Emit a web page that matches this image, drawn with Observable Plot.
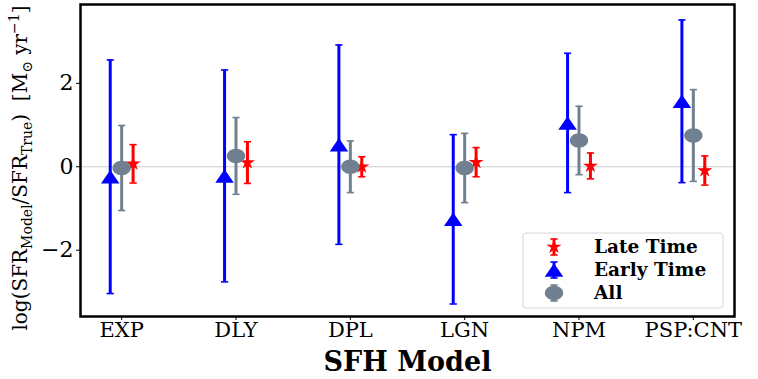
<!DOCTYPE html>
<html><head><meta charset="utf-8">
<script src="https://cdn.jsdelivr.net/npm/d3@7"></script>
<script src="https://cdn.jsdelivr.net/npm/@observablehq/plot@0.6"></script>
<style>html,body{margin:0;padding:0;background:#fff;} svg{display:block;}</style>
</head><body><div id="chart"></div>
<script>
// ---- data ----
const models = ["EXP", "DLY", "DPL", "LGN", "NPM", "PSP:CNT"];
const lateMean  = [0.07, 0.10, 0.00, 0.11, 0.02, -0.09];
const lateErr   = [0.46, 0.50, 0.24, 0.35, 0.31, 0.35];
const earlyMean = [-0.24, -0.22, 0.53, -1.26, 1.05, 1.57];
const earlyErr  = [2.80, 2.54, 2.39, 2.03, 1.67, 1.95];
const allMean   = [-0.03, 0.26, 0.00, -0.03, 0.63, 0.75];
const allErr    = [1.02, 0.92, 0.62, 0.83, 0.82, 1.10];
const seriesNames = ["Late Time", "Early Time", "All"];
const yTicks = [-2, 0, 2];

// ---- custom marker shapes ----
function ellipsePath(ctx, rx, ry) {
  const k = 0.5523;
  ctx.moveTo(rx, 0);
  ctx.bezierCurveTo(rx, ry * k, rx * k, ry, 0, ry);
  ctx.bezierCurveTo(-rx * k, ry, -rx, ry * k, -rx, 0);
  ctx.bezierCurveTo(-rx, -ry * k, -rx * k, -ry, 0, -ry);
  ctx.bezierCurveTo(rx * k, -ry, rx, -ry * k, rx, 0);
  ctx.closePath();
}
const ellipseSym = {draw(ctx) { ellipsePath(ctx, 9.2, 7.2); }};
const triSym = {draw(ctx) {
  const w = 18.5, h = 13.5;
  ctx.moveTo(0, -h / 2); ctx.lineTo(w / 2, h / 2); ctx.lineTo(-w / 2, h / 2); ctx.closePath();
}};
const starSym = {draw(ctx) {
  const R = 7.4, r = R * 0.382;
  for (let k = 0; k < 10; k++) {
    const a = -Math.PI / 2 + k * Math.PI / 5, rr = k % 2 ? r : R;
    const px = rr * Math.cos(a) * 1.08, py = rr * Math.sin(a);
    k ? ctx.lineTo(px, py) : ctx.moveTo(px, py);
  }
  ctx.closePath();
}};
const capSym = {draw(ctx) { ctx.moveTo(-3.6, 0); ctx.lineTo(3.6, 0); }};

const series = [
  {name: seriesNames[0], mean: lateMean,  err: lateErr,  off: 0.1,  color: "#ff0000", sym: starSym},
  {name: seriesNames[1], mean: earlyMean, err: earlyErr, off: -0.1, color: "#0000ff", sym: triSym},
  {name: seriesNames[2], mean: allMean,   err: allErr,   off: 0,    color: "#708090", sym: ellipseSym}
];

const marks = [Plot.ruleY([0], {stroke: "#cccccc", strokeWidth: 1})];
for (const s of series) {
  const rows = models.map((m, i) => ({x: i + s.off, y: s.mean[i], lo: s.mean[i] - s.err[i], hi: s.mean[i] + s.err[i]}));
  marks.push(
    Plot.ruleX(rows, {x: "x", y1: "lo", y2: "hi", stroke: s.color, strokeWidth: 3}),
    Plot.dot(rows, {x: "x", y: "hi", symbol: capSym, stroke: s.color, strokeWidth: 1.6, fill: "none"}),
    Plot.dot(rows, {x: "x", y: "lo", symbol: capSym, stroke: s.color, strokeWidth: 1.6, fill: "none"}),
    Plot.dot(rows, {x: "x", y: "y", symbol: s.sym, fill: s.color, stroke: "none"})
  );
}
marks.push(
  Plot.frame({stroke: "black", strokeWidth: 2.5}),
  Plot.axisX({ticks: d3.range(models.length), tickFormat: i => models[i], tickSize: 4, tickPadding: 2,
    fontSize: 21, label: null, stroke: "black"}),
  Plot.axisY({ticks: yTicks, tickSize: 4, tickPadding: 3, fontSize: 22, label: null,
    tickFormat: d => d < 0 ? "\u2212" + (-d) : String(d)}),
  Plot.text(["SFH Model"], {frameAnchor: "bottom", dy: 54, fontSize: 27, fontWeight: "bold"})
);

const chart = Plot.plot({
  width: 758, height: 379,
  marginLeft: 80, marginRight: 24, marginTop: 4, marginBottom: 63,
  style: {fontFamily: "'DejaVu Serif', serif", background: "white", color: "black"},
  x: {type: "linear", domain: [-0.36, 5.36]},
  y: {domain: [-3.59, 3.89]},
  marks
});
document.getElementById("chart").appendChild(chart);

// ---- y-axis label with sub/superscripts ----
const svg = d3.select(chart);
const ylab = svg.append("text")
  .attr("transform", "translate(27,168) rotate(-90)")
  .attr("text-anchor", "middle")
  .attr("font-family", "'DejaVu Serif', serif")
  .attr("font-size", 20).attr("fill", "black");
const pieces = [
  ["log(SFR", 0], ["Model", 5], ["/SFR", 0], ["True", 5], [")\u00a0\u00a0[M", 0],
  ["\u2299", 5], ["\u00a0yr", 0], ["\u22121", -8], ["]", 0]
];
let prev = 0;
for (const [t, shift] of pieces) {
  ylab.append("tspan").attr("dy", shift - prev).attr("font-size", shift ? 14 : 20).text(t);
  prev = shift;
}

// ---- legend ----
const lg = svg.append("g").attr("transform", "translate(523,233)");
lg.append("rect").attr("width", 200).attr("height", 75).attr("rx", 3)
  .attr("fill", "white").attr("fill-opacity", 0.85).attr("stroke", "#d6d6d6").attr("stroke-width", 1);
series.forEach((s, k) => {
  const cy = 14 + k * 23;
  const g = lg.append("g").attr("transform", `translate(31,${cy})`);
  g.append("line").attr("y1", -8).attr("y2", 8).attr("stroke", s.color).attr("stroke-width", 3);
  g.append("path").attr("d", d3.symbol(capSym)()).attr("transform", "translate(0,-8)").attr("stroke", s.color).attr("stroke-width", 1.6);
  g.append("path").attr("d", d3.symbol(capSym)()).attr("transform", "translate(0,8)").attr("stroke", s.color).attr("stroke-width", 1.6);
  g.append("path").attr("d", d3.symbol(s.sym)()).attr("fill", s.color);
  lg.append("text").attr("x", 71).attr("y", cy).attr("dy", "0.35em")
    .attr("text-anchor", "start")
    .attr("font-family", "'DejaVu Serif', serif").attr("font-weight", "bold").attr("font-size", 18.5)
    .attr("fill", "black").text(s.name);
});
</script>
</body></html>
